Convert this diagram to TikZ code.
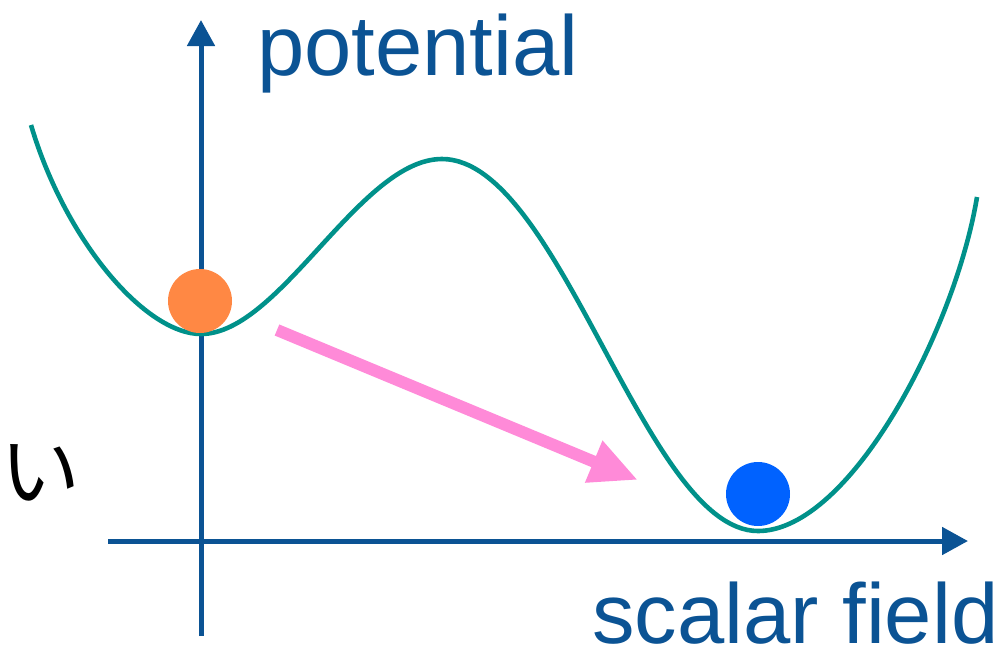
\documentclass[tikz,border=0pt]{standalone}
\usepackage{fontspec}
\setmainfont{Liberation Sans}
\newfontfamily\cjk{Noto Sans CJK JP}
\usetikzlibrary{arrows.meta}
\definecolor{axisblue}{HTML}{0B5394}
\definecolor{curveteal}{HTML}{00918A}
\definecolor{ballorange}{HTML}{FF8844}
\definecolor{ballblue}{HTML}{0062FF}
\definecolor{arrowpink}{HTML}{FF8AD8}
\begin{document}
\begin{tikzpicture}[x=1pt,y=-1pt,
  axis/.style={draw=axisblue,line width=5pt,-{Triangle[length=26pt,width=27pt]}},
  lbl/.style={text=axisblue,font=\fontsize{85}{90}\selectfont,inner sep=0pt,anchor=base west},
  ball/.style={circle,inner sep=0pt,minimum size=64pt},
  curve/.style={draw=curveteal,line width=4.6pt}]
\useasboundingbox (0,0) rectangle (1004,654);
\coordinate (ybot) at (201,636);
\coordinate (ytop) at (201,20);
\coordinate (xl) at (108,541);
\coordinate (xr) at (968,541);
\draw[axis] (ybot) -- (ytop);
\draw[axis] (xl) -- (xr);
\coordinate (c0) at (31,125);
\coordinate (m1) at (201,334);
\coordinate (pk) at (442,159);
\coordinate (m2) at (758,531);
\coordinate (c1) at (977,197);
\draw[curve] (c0) .. controls (65,240) and (145,334) .. (m1)
  .. controls (280,334) and (360,159) .. (pk)
  .. controls (560,159) and (645,531) .. (m2)
  .. controls (850,531) and (955,330) .. (c1);
\node[ball,fill=ballorange] (orange) at (200,301) {};
\node[ball,fill=ballblue] (blue) at (758,494) {};
\coordinate (pstart) at (277,330);
\coordinate (pend) at (638,480);
\draw[arrowpink,line width=12pt,-{Triangle[length=48pt,width=42pt]}] (pstart) -- (pend);
\node[lbl] (pot) at (257,75) {potential};
\node[lbl] (sf) at (592,643) {scalar field};
\node[inner sep=0pt,anchor=base west,font=\cjk\fontsize{80}{84}\selectfont] (i) at (0,500) {い};
\end{tikzpicture}
\end{document}
